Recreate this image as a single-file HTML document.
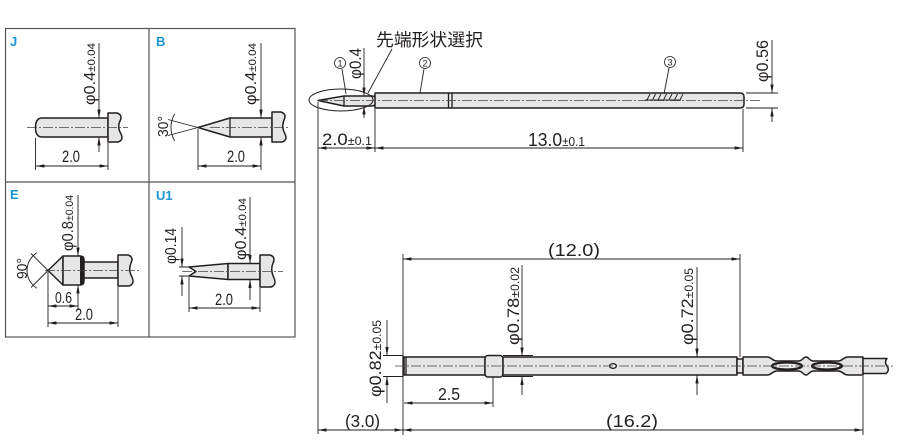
<!DOCTYPE html>
<html><head><meta charset="utf-8"><style>
html,body{margin:0;padding:0;background:#fff;}
svg{display:block;}
text{font-family:"Liberation Sans","Noto Sans CJK JP",sans-serif;fill:#231f20;}
.o{fill:#e6e6e6;stroke:#231f20;stroke-width:1.5;stroke-linejoin:round;}
.d{stroke:#231f20;stroke-width:0.9;fill:none;}
.c{stroke:#444;stroke-width:0.8;stroke-dasharray:10 2 2 2;fill:none;}
.k{stroke:#231f20;stroke-width:1.3;fill:none;}
</style></head><body>
<svg width="900" height="442" viewBox="0 0 900 442" xmlns="http://www.w3.org/2000/svg">
<defs>
<marker id="a" viewBox="0 0 10 4" refX="10" refY="2" markerWidth="9" markerHeight="3.4" markerUnits="userSpaceOnUse" orient="auto-start-reverse"><path d="M0,0 L10,2 L0,4 z" fill="#231f20"/></marker>
</defs>

<!-- LEFT PANEL -->
<rect x="5.5" y="28.5" width="289.5" height="308.5" fill="none" stroke="#555" stroke-width="1.2"/>
<line x1="149" y1="28.5" x2="149" y2="337" stroke="#555" stroke-width="1.2"/>
<line x1="5.5" y1="182" x2="295" y2="182" stroke="#555" stroke-width="1.2"/>
<text x="10" y="46" font-size="13" font-weight="bold" style="fill:#1a96d4">J</text>
<text x="156" y="46" font-size="13" font-weight="bold" style="fill:#1a96d4">B</text>
<text x="10" y="199" font-size="13" font-weight="bold" style="fill:#1a96d4">E</text>
<text x="156" y="200" font-size="13" font-weight="bold" style="fill:#1a96d4">U1</text>

<!-- J -->
<path class="o" d="M108,118 H42 Q35.5,118 35.5,127.5 Q35.5,137 42,137 H108 Z"/>
<path class="o" d="M108,113 H117 Q123,115 120,121 Q117,127 121,134 Q124,140 118,142 H108 Z"/>
<path class="c" d="M27,127.5 H128"/>
<path class="d" d="M99,43 V118" marker-end="url(#a)"/>
<path class="d" d="M99,152 V137" marker-end="url(#a)"/>
<text transform="translate(95,105) rotate(-90)" font-size="15.5" textLength="62" lengthAdjust="spacingAndGlyphs">φ0.4<tspan font-size="11">±0.04</tspan></text>
<path class="d" d="M35.5,138 V170 M108,143 V170"/>
<path class="d" d="M36,166 H108" marker-start="url(#a)" marker-end="url(#a)"/>
<text x="62" y="162" font-size="16.5" textLength="18" lengthAdjust="spacingAndGlyphs">2.0</text>

<!-- B -->
<path class="o" d="M198,127.5 L230,118 H272 V137 H230 Z"/>
<path class="k" d="M230,118 V137"/>
<path class="o" d="M272,112 H281 Q287,114 284,120 Q281,127 285,134 Q288,140 282,142 H272 Z"/>
<path class="c" d="M210,127.5 H290"/>
<path class="d" d="M198,127.5 L168,119.5 M198,127.5 L168,135.5"/>
<path class="d" d="M174.6,114 A27,27 0 0 0 174.6,141"/>
<text transform="translate(168,137) rotate(-90)" font-size="14.5" textLength="21" lengthAdjust="spacingAndGlyphs">30°</text>
<path class="d" d="M261,43 V118" marker-end="url(#a)"/>
<path class="d" d="M261,152 V137" marker-end="url(#a)"/>
<text transform="translate(256,105) rotate(-90)" font-size="15.5" textLength="62" lengthAdjust="spacingAndGlyphs">φ0.4<tspan font-size="11">±0.04</tspan></text>
<path class="d" d="M198,129 V170 M261,152 V170"/>
<path class="d" d="M198,166 H261" marker-start="url(#a)" marker-end="url(#a)"/>
<text x="227" y="162" font-size="16.5" textLength="18" lengthAdjust="spacingAndGlyphs">2.0</text>

<!-- E -->
<path class="o" d="M48,270.5 L63,256 V285 Z"/>
<path class="o" d="M63,256 H80 Q84,256 84,260 V281 Q84,285 80,285 H63 Z"/>
<rect x="80" y="256" width="3.5" height="29" fill="#231f20"/>
<path class="o" d="M84,262 H118 V278 H84 Z"/>
<path class="o" d="M118,255 H128 Q134,257 131,263 Q128,270 132,277 Q135,284 129,286 H118 Z"/>
<path class="c" d="M45,270.5 H140"/>
<path class="d" d="M48,270.5 L31,253.5 M48,270.5 L31,287.5"/>
<path class="d" d="M36.9,252.7 A21,21 0 0 0 36.9,288.3"/>
<text transform="translate(27,279) rotate(-90)" font-size="14.5" textLength="21" lengthAdjust="spacingAndGlyphs">90°</text>
<path class="d" d="M78,195 V256" marker-end="url(#a)"/>
<path class="d" d="M78,300 V285" marker-end="url(#a)"/>
<text transform="translate(73,251) rotate(-90)" font-size="15.5" textLength="56" lengthAdjust="spacingAndGlyphs">φ0.8<tspan font-size="11">±0.04</tspan></text>
<path class="d" d="M48,272 V327 M78,300 V310 M118,287 V327"/>
<path class="d" d="M48,306 H78" marker-start="url(#a)" marker-end="url(#a)"/>
<text x="55" y="303" font-size="16" textLength="17" lengthAdjust="spacingAndGlyphs">0.6</text>
<path class="d" d="M48,323 H118" marker-start="url(#a)" marker-end="url(#a)"/>
<text x="75" y="320" font-size="16.5" textLength="18" lengthAdjust="spacingAndGlyphs">2.0</text>

<!-- U1 -->
<path class="o" d="M189,267 L228,263.5 V279.5 L189,276 L196,271.5 Z"/>
<path class="o" d="M228,263.5 H260 V279.5 H228 Z"/>
<path class="o" d="M260,255 H270 Q276,257 273,263 Q270,270 274,278 Q277,285 271,287 H260 Z"/>
<path class="c" d="M182,271.5 H283"/>
<path class="d" d="M179,267 H192 M179,276 H192"/>
<path class="d" d="M182,227 V267" marker-end="url(#a)"/>
<path class="d" d="M182,296 V276" marker-end="url(#a)"/>
<text transform="translate(176,264) rotate(-90)" font-size="15.5" textLength="36" lengthAdjust="spacingAndGlyphs">φ0.14</text>
<path class="d" d="M250,197 V263.5" marker-end="url(#a)"/>
<path class="d" d="M250,300 V279.5" marker-end="url(#a)"/>
<text transform="translate(246,260) rotate(-90)" font-size="15.5" textLength="62" lengthAdjust="spacingAndGlyphs">φ0.4<tspan font-size="11">±0.04</tspan></text>
<path class="d" d="M189,277 V312 M260,288 V312"/>
<path class="d" d="M189,308 H260" marker-start="url(#a)" marker-end="url(#a)"/>
<text x="215" y="305" font-size="16.5" textLength="18" lengthAdjust="spacingAndGlyphs">2.0</text>

<!-- RIGHT TOP -->
<path class="o" d="M318,100.5 L344,96 H372 Q376,96 376,101 Q376,106 372,106 H344 Z"/>
<path class="k" d="M344,96 V106"/>
<path class="o" d="M375,93 H740 Q744,93 744,97 V104 Q744,108 740,108 H375 Z"/>
<path class="k" d="M448.5,93 V108 M452,93 V108"/>
<path class="c" d="M318,100.5 H760"/>
<path class="d" stroke-width="1.1" d="M645,100 H681 M647,100 L650,94 M652.5,100 L655.5,94 M658,100 L661,94 M663.5,100 L666.5,94 M669,100 L672,94 M674.5,100 L677.5,94 M680,100 L683,94"/>
<ellipse cx="341" cy="100" rx="32" ry="11" fill="none" stroke="#231f20" stroke-width="1"/>
<text x="376" y="46" font-size="17.5" textLength="107" lengthAdjust="spacingAndGlyphs">先端形状選択</text>
<path class="d" d="M392,49 L368,93"/>
<circle cx="340" cy="63" r="5.5" fill="#fff" stroke="#231f20" stroke-width="0.8"/>
<text x="340" y="66.5" font-size="9" text-anchor="middle">1</text>
<path class="d" d="M342,69 L346,94"/>
<circle cx="425" cy="63" r="5.5" fill="#fff" stroke="#231f20" stroke-width="0.8"/>
<text x="425" y="66.5" font-size="9" text-anchor="middle">2</text>
<path class="d" d="M424,69 L420,93"/>
<circle cx="670" cy="62" r="5.5" fill="#fff" stroke="#231f20" stroke-width="0.8"/>
<text x="670" y="65.5" font-size="9" text-anchor="middle">3</text>
<path class="d" d="M669,68 L664,94"/>
<path class="d" d="M364,48 V96" marker-end="url(#a)"/>
<path class="d" d="M364,118 V106" marker-end="url(#a)"/>
<text transform="translate(361,79) rotate(-90)" font-size="16.5" textLength="31" lengthAdjust="spacingAndGlyphs">φ0.4</text>
<path class="d" d="M318,102 V434 M375,109 V152"/>
<path class="d" d="M318,148 H375" marker-start="url(#a)" marker-end="url(#a)"/>
<text x="322" y="145" font-size="17" textLength="50" lengthAdjust="spacingAndGlyphs">2.0<tspan font-size="11.5">±0.1</tspan></text>
<path class="d" d="M375,148 H743" marker-start="url(#a)" marker-end="url(#a)"/>
<text x="528" y="146" font-size="18.5" textLength="57" lengthAdjust="spacingAndGlyphs">13.0<tspan font-size="12.5">±0.1</tspan></text>
<path class="d" d="M743,109 V152"/>
<path class="d" d="M746,93 H778 M746,108 H778"/>
<path class="d" d="M772,40 V93" marker-end="url(#a)"/>
<path class="d" d="M772,122 V108" marker-end="url(#a)"/>
<text transform="translate(768,82) rotate(-90)" font-size="16.5" textLength="42" lengthAdjust="spacingAndGlyphs">φ0.56</text>

<!-- RIGHT BOTTOM -->
<path class="d" d="M403,259 H740" marker-start="url(#a)" marker-end="url(#a)"/>
<text x="548" y="256" font-size="17.5" textLength="52" lengthAdjust="spacingAndGlyphs">(12.0)</text>
<path class="d" d="M403,254 V435 M740,254 V357"/>
<path class="o" d="M404,357 H485 V375 H404 Z"/>
<path class="k" stroke-width="1.6" d="M403,355.5 V376.5 M406,357 V375"/>
<rect class="o" x="485" y="355.5" width="18" height="21.5" rx="3"/>
<path class="o" d="M503,357 H737 V375 H503 Z"/>
<path class="d" stroke-width="1" d="M503,355.5 H533 M503,376.5 H533"/>
<ellipse cx="613" cy="366" rx="3.5" ry="2.3" fill="#fff" stroke="#231f20" stroke-width="1.3"/>
<path class="o" d="M737,359 H743 V373 H737 Z"/>
<path class="o" d="M743,357 H767 C772,357 772,361 777,361 H798 C803,361 803,357 806,357 C809,357 809,361 814,361 H838 C843,361 843,357 848,357 H863 V375 H848 C843,375 843,371 838,371 H814 C809,371 809,375 806,375 C803,375 803,371 798,371 H777 C772,371 772,375 767,375 H743 Z"/>
<ellipse cx="787" cy="366" rx="15" ry="3.5" fill="#eee" stroke="#231f20" stroke-width="2.3"/>
<ellipse cx="827" cy="366" rx="15" ry="3.5" fill="#eee" stroke="#231f20" stroke-width="2.3"/>
<path class="o" d="M863,358.5 H887 Q884,362 887,366 Q890,370 886,373.5 H863 Z"/>
<path class="c" d="M395,366 H893"/>
<path class="d" d="M383,355.5 H403 M383,376.5 H403"/>
<path class="d" d="M387,320 V355.5" marker-end="url(#a)"/>
<path class="d" d="M387,403 V376.5" marker-end="url(#a)"/>
<text transform="translate(381,397) rotate(-90)" font-size="17" textLength="77" lengthAdjust="spacingAndGlyphs">φ0.82<tspan font-size="11.5">±0.05</tspan></text>
<path class="d" d="M522,265 V356" marker-end="url(#a)"/>
<path class="d" d="M522,395 V376.5" marker-end="url(#a)"/>
<text transform="translate(519,345) rotate(-90)" font-size="17" textLength="78" lengthAdjust="spacingAndGlyphs">φ0.78<tspan font-size="11.5">±0.02</tspan></text>
<path class="d" d="M697,267 V357" marker-end="url(#a)"/>
<path class="d" d="M697,395 V375" marker-end="url(#a)"/>
<text transform="translate(693,345) rotate(-90)" font-size="17" textLength="77" lengthAdjust="spacingAndGlyphs">φ0.72<tspan font-size="11.5">±0.05</tspan></text>
<path class="d" d="M493,377 V407"/>
<path class="d" d="M404,403 H493" marker-start="url(#a)" marker-end="url(#a)"/>
<text x="438" y="400" font-size="17.5" textLength="22" lengthAdjust="spacingAndGlyphs">2.5</text>
<path class="d" d="M318,430 H403" marker-start="url(#a)" marker-end="url(#a)"/>
<text x="345" y="427" font-size="17.5" textLength="35" lengthAdjust="spacingAndGlyphs">(3.0)</text>
<path class="d" d="M403,430 H863" marker-start="url(#a)" marker-end="url(#a)"/>
<text x="606" y="427" font-size="17.5" textLength="52" lengthAdjust="spacingAndGlyphs">(16.2)</text>
<path class="d" d="M863,376 V435"/>
</svg>
</body></html>
